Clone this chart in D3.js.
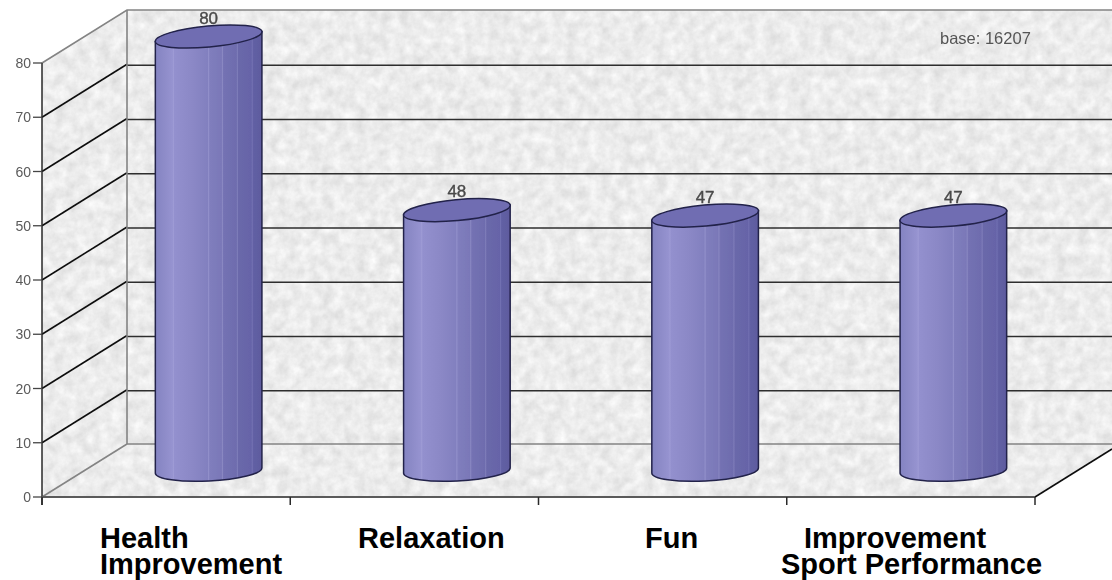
<!DOCTYPE html>
<html><head><meta charset="utf-8">
<script src="https://cdn.jsdelivr.net/npm/d3@7/dist/d3.min.js"></script>
<style>html,body{margin:0;padding:0;background:#fff}svg{display:block}</style>
</head><body><svg id="c" width="1112" height="580"></svg>
<script>
const categories = ["Health Improvement","Relaxation","Fun","Improvement Sport Performance"];
const values = [80,48,47,47];
const labelLines = [["Health","Improvement"],["Relaxation"],["Fun"],["Improvement","Sport Performance"]];
const labelX = [[100,100],[358],[645],[804,781]];
const yTicks = [0,10,20,30,40,50,60,70,80];
const baseNote = "base: 16207";

const W=1112,H=580;
const svg=d3.select("#c");
const x=d3.scaleBand().domain(categories).range([42,1035]);
const y=d3.scaleLinear().domain([0,80]).range([497,63]);
const dx=85,dy=-53;
const defs=svg.append("defs");
const tex=defs.append("filter").attr("id","tex").attr("x",0).attr("y",0).attr("width",1).attr("height",1).attr("color-interpolation-filters","sRGB");
tex.append("feTurbulence").attr("type","fractalNoise").attr("baseFrequency",0.09).attr("numOctaves",4).attr("seed",4);
tex.append("feColorMatrix").attr("values","0.16 0 0 0 0.845  0.16 0 0 0 0.845  0.16 0 0 0 0.845  0 0 0 0 1");
defs.append("filter").attr("id","soft").append("feGaussianBlur").attr("stdDeviation",0.55);
const grad=defs.append("linearGradient").attr("id","cyl");
[[0,"#8484c2"],[.08,"#8d8bc8"],[.16,"#9693d0"],[.17,"#9e9bd5"],[.18,"#9390ce"],[.35,"#8b88c6"],[.49,"#8280bf"],[.5,"#9391cb"],[.51,"#807ebd"],[.62,"#7a78b8"],[.63,"#8a88c2"],[.64,"#7472b3"],[.76,"#6e6cae"],[.77,"#7f7dba"],[.78,"#6a68aa"],[.9,"#6664a8"],[.91,"#7270b2"],[.92,"#6260a4"],[1,"#5d5b9e"]]
 .forEach(s=>grad.append("stop").attr("offset",s[0]).attr("stop-color",s[1]));

const line=d3.line();
const bg=svg.append("g");
const shapes=[
 [[42,y(80)],[42+dx,y(80)+dy],[42+dx,y(0)+dy],[42,y(0)]],
 [[42+dx,y(80)+dy],[W,y(80)+dy],[W,y(0)+dy],[42+dx,y(0)+dy]],
 [[42,y(0)],[42+dx,y(0)+dy],[W,y(0)+dy],[W,y(0)+dy+5],[1035,y(0)]]
];
const clip=defs.append("clipPath").attr("id","wall");
shapes.forEach(s=>clip.append("path").attr("d",line(s)+"Z"));
bg.append("rect").attr("width",W).attr("height",H).attr("fill","#eee").attr("filter","url(#tex)").attr("clip-path","url(#wall)");

const g=svg.append("g").attr("filter","url(#soft)");
const grid=yTicks.filter(t=>t>0&&t<80);
g.selectAll(".gb").data(grid).join("line").attr("x1",42+dx).attr("x2",W).attr("y1",d=>y(d)+dy+1).attr("y2",d=>y(d)+dy+1).attr("stroke","#2e2e2e").attr("stroke-width",1.5);
g.selectAll(".gs").data(grid).join("line").attr("x1",42).attr("x2",42+dx).attr("y1",d=>y(d)).attr("y2",d=>y(d)+dy).attr("stroke","#111").attr("stroke-width",1.6);
const edge=[[[42,y(80)],[42+dx,y(80)+dy],[W,y(80)+dy]],[[42+dx,y(80)+dy],[42+dx,y(0)+dy],[W,y(0)+dy]],[[42,y(0)],[42+dx,y(0)+dy]]];
g.selectAll(".e").data(edge).join("path").attr("d",d=>line(d)).attr("fill","none").attr("stroke","#848484").attr("stroke-width",1.6);
g.append("path").attr("d",line([[1035,y(0)],[W,y(0)+dy+5]])).attr("stroke","#111").attr("stroke-width",1.6);
g.append("line").attr("x1",42).attr("x2",42).attr("y1",y(80)).attr("y2",505).attr("stroke","#2a2a2a").attr("stroke-width",1.5);
g.append("line").attr("x1",42).attr("x2",1035).attr("y1",y(0)).attr("y2",y(0)).attr("stroke","#5a5a5a").attr("stroke-width",2);
g.selectAll(".xt").data(d3.range(categories.length+1)).join("line").attr("x1",i=>42+i*x.step()).attr("x2",i=>42+i*x.step()).attr("y1",y(0)).attr("y2",505).attr("stroke","#2a2a2a").attr("stroke-width",1.5);
g.selectAll(".yt").data(yTicks).join("line").attr("x1",33).attr("x2",42).attr("y1",d=>y(d)).attr("y2",d=>y(d)).attr("stroke","#444").attr("stroke-width",1.3);
g.selectAll(".yl").data(yTicks).join("text").attr("x",31).attr("y",d=>y(d)+5).attr("text-anchor","end")
 .attr("font-family","Liberation Sans").attr("font-size",14).attr("fill","#5a5a5a").text(d=>d);

const rx=53.3,ry=10.5,depthX=dx/2,depthY=dy/2;
const floorY=y(0)+depthY;
const cyl=g.selectAll(".c").data(categories.map((c,i)=>({c,v:values[i]}))).join("g");
const cx=d=>x(d.c)+x.bandwidth()/2+depthX;
const ty=d=>floorY-(y(0)-y(d.v));
const tilt=5,ltilt=2.7;
cyl.append("path").attr("d",d=>`M${cx(d)-rx},${ty(d)+tilt}L${cx(d)-rx},${floorY+ltilt}A${rx},${ry} -2.9 0 0 ${cx(d)+rx},${floorY-ltilt}L${cx(d)+rx},${ty(d)-tilt}Z`)
 .attr("fill","url(#cyl)").attr("stroke","#22224a").attr("stroke-width",1.5);
cyl.append("ellipse").attr("cx",cx).attr("cy",ty).attr("rx",rx+.3).attr("ry",ry).attr("transform",d=>`rotate(-5.3 ${cx(d)} ${ty(d)})`)
 .attr("fill","#6f6db2").attr("stroke","#22224a").attr("stroke-width",1.5);
cyl.append("text").attr("x",d=>cx(d)).attr("y",d=>ty(d)-13).attr("text-anchor","middle").attr("font-family","Liberation Sans")
 .attr("font-size",17).attr("fill","#4a4a4a").attr("stroke","#4a4a4a").attr("stroke-width",.4).text(d=>d.v);
g.append("text").attr("x",940).attr("y",44).attr("font-family","Liberation Sans").attr("font-size",16.5).attr("fill","#555").text(baseNote);

labelLines.forEach((ls,i)=>ls.forEach((t,j)=>{
 svg.append("text").attr("x",labelX[i][j]).attr("y",548+j*26).attr("font-family","Liberation Sans").attr("font-weight","bold").attr("font-size",29).attr("fill","#000").text(t);
}));
</script></body></html>
